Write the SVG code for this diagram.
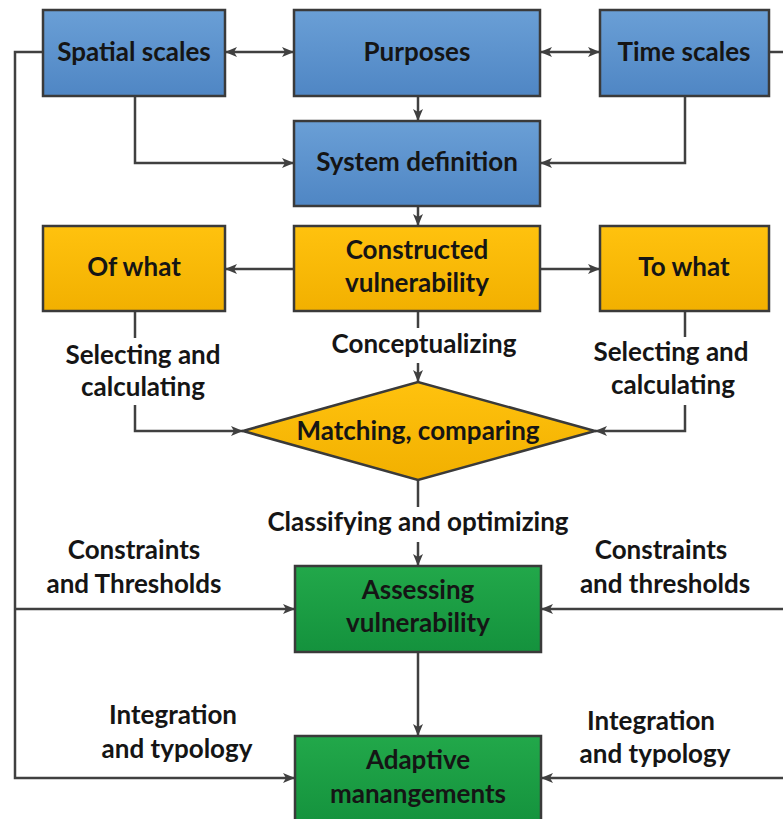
<svg xmlns="http://www.w3.org/2000/svg" width="783" height="819" viewBox="0 0 783 819">
<defs>
<linearGradient id="gb" x1="0" y1="0" x2="0" y2="1"><stop offset="0" stop-color="#6a9fd6"/><stop offset="1" stop-color="#4f86c4"/></linearGradient>
<linearGradient id="gy" x1="0" y1="0" x2="0" y2="1"><stop offset="0" stop-color="#ffc20e"/><stop offset="1" stop-color="#f2b000"/></linearGradient>
<linearGradient id="gg" x1="0" y1="0" x2="0" y2="1"><stop offset="0" stop-color="#22a84a"/><stop offset="1" stop-color="#14923d"/></linearGradient>
<marker id="ah" viewBox="0 0 12 10" refX="12" refY="5" markerWidth="12" markerHeight="10" markerUnits="userSpaceOnUse" orient="auto-start-reverse"><path d="M0,0 L12,5 L0,10 L3,5 Z" fill="#404040"/></marker>
<style>
.box{stroke:#3a3a3a;stroke-width:2.5}
.b{fill:url(#gb)}.y{fill:url(#gy)}.g{fill:url(#gg)}
.t{font-family:Lato,"Open Sans","Liberation Sans",sans-serif;font-weight:bold;font-size:26px;fill:#151515;text-anchor:middle}
.l{font-family:Lato,"Open Sans","Liberation Sans",sans-serif;font-weight:bold;font-size:26px;fill:#151515;text-anchor:middle}
.c{fill:none;stroke:#404040;stroke-width:2.5}
</style>
</defs>
<rect width="783" height="819" fill="#ffffff"/>
<g id="connectors">
<path class="c" d="M225,52 H294" marker-start="url(#ah)" marker-end="url(#ah)"/>
<path class="c" d="M540,52 H600" marker-start="url(#ah)" marker-end="url(#ah)"/>
<path class="c" d="M418,96 V121" marker-end="url(#ah)"/>
<path class="c" d="M135,96 V163 H294" marker-end="url(#ah)"/>
<path class="c" d="M685,96 V163 H540" marker-end="url(#ah)"/>
<path class="c" d="M418,206 V226" marker-end="url(#ah)"/>
<path class="c" d="M294,269 H225" marker-end="url(#ah)"/>
<path class="c" d="M540,269 H600" marker-end="url(#ah)"/>
<path class="c" d="M418,311 V328"/>
<path class="c" d="M418,363 V382" marker-end="url(#ah)"/>
<path class="c" d="M135,311 V338"/>
<path class="c" d="M135,405 V431 H243" marker-end="url(#ah)"/>
<path class="c" d="M685,311 V337"/>
<path class="c" d="M685,405 V431 H595" marker-end="url(#ah)"/>
<path class="c" d="M418,480 V507"/>
<path class="c" d="M418,542 V566" marker-end="url(#ah)"/>
<path class="c" d="M418,652 V736" marker-end="url(#ah)"/>
<path class="c" d="M43,52 H15 V778 H295" marker-end="url(#ah)"/>
<path class="c" d="M15,609 H295" marker-end="url(#ah)"/>
<path class="c" d="M769,52 H786 V778 H541" marker-end="url(#ah)"/>
<path class="c" d="M786,609 H541" marker-end="url(#ah)"/>
</g>
<g id="spatial"><rect class="box b" x="43" y="10" width="182" height="86"/><text class="t" x="134" y="61">Spatial scales</text></g>
<g id="purposes"><rect class="box b" x="294" y="10" width="246" height="86"/><text class="t" x="417" y="61">Purposes</text></g>
<g id="time"><rect class="box b" x="600" y="10" width="169" height="86"/><text class="t" x="684" y="61">Time scales</text></g>
<g id="system"><rect class="box b" x="294" y="121" width="246" height="85"/><text class="t" x="417" y="171">System definition</text></g>
<g id="ofwhat"><rect class="box y" x="43" y="226" width="182" height="85"/><text class="t" x="134" y="276">Of what</text></g>
<g id="constructed"><rect class="box y" x="294" y="226" width="246" height="85"/><text class="t" x="417" y="259">Constructed</text><text class="t" x="417" y="292">vulnerability</text></g>
<g id="towhat"><rect class="box y" x="600" y="226" width="169" height="85"/><text class="t" x="684" y="276">To what</text></g>
<g id="matching"><polygon class="box y" points="243,431 418,382 595,431 418,480"/><text class="t" x="418" y="440">Matching, comparing</text></g>
<g id="assessing"><rect class="box g" x="295" y="566" width="246" height="86"/><text class="t" x="418" y="599">Assessing</text><text class="t" x="418" y="632">vulnerability</text></g>
<g id="adaptive"><rect class="box g" x="295" y="736" width="246" height="90"/><text class="t" x="418" y="769">Adaptive</text><text class="t" x="418" y="803">manangements</text></g>
<g id="labels">
<text class="l" x="143" y="364">Selecting and</text><text class="l" x="143" y="396">calculating</text>
<text class="l" x="424" y="353">Conceptualizing</text>
<text class="l" x="671" y="361">Selecting and</text><text class="l" x="673" y="394">calculating</text>
<text class="l" x="418" y="531">Classifying and optimizing</text>
<text class="l" x="134" y="559">Constraints</text><text class="l" x="134" y="593">and Thresholds</text>
<text class="l" x="661" y="559">Constraints</text><text class="l" x="665" y="593">and thresholds</text>
<text class="l" x="173" y="724">Integration</text><text class="l" x="177" y="758">and typology</text>
<text class="l" x="651" y="730">Integration</text><text class="l" x="655" y="763">and typology</text>
</g>
</svg>
